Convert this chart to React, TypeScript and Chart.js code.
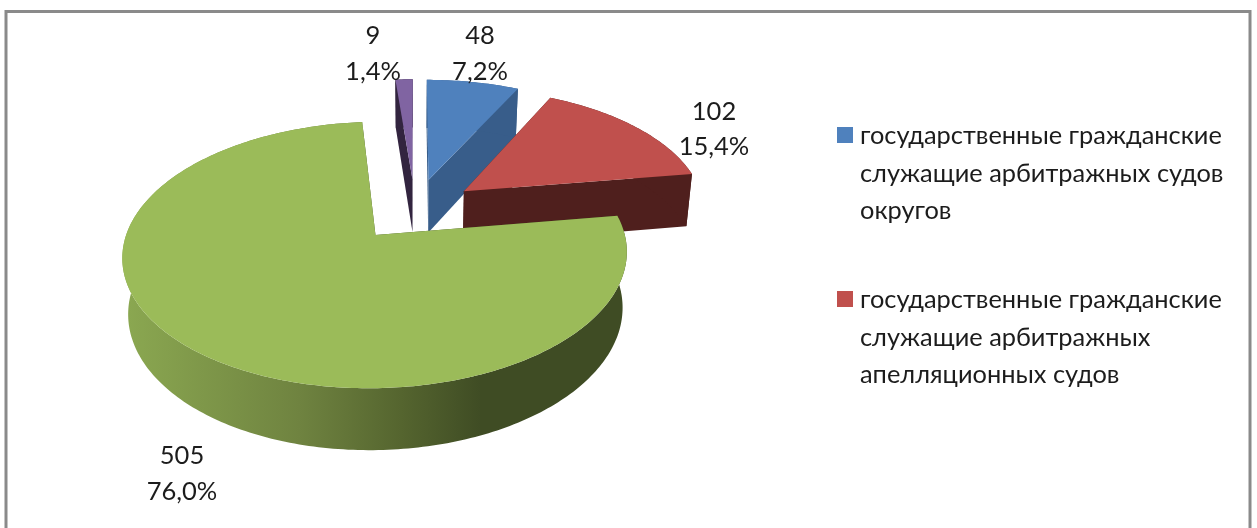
import React, { useEffect, useRef } from "react";
import { Chart, ArcElement, PieController } from "chart.js";

const sliceValues = [48, 102, 505, 9];
const sliceNames = [
  "государственные гражданские служащие арбитражных судов округов",
  "государственные гражданские служащие арбитражных апелляционных судов",
  "",
  "",
];
const percentLabels = ["7,2%", "15,4%", "76,0%", "1,4%"];
const legendLines = [
  ["государственные гражданские", "служащие арбитражных судов", "округов"],
  ["государственные гражданские", "служащие арбитражных", "апелляционных судов"],
];

const topColors = ["#4F81BD", "#C0504D", "#9BBB59", "#8064A2"];
const sideColors = ["#385D8A", "#4F1F1D", "#3F4D24", "#32243F"];
const shadedWall = [false, false, true, false];
const labelCentres = [
  [480, 36, 72],
  [714, 112, 147],
  [182, 456, 492],
  [373, 36, 72],
];
const FONT = "Lato, 'Open Sans', sans-serif";
const VIEW = { p: 0.146, k: 0.507, depth: 54, m: 0.98 };

function project(cx: number, cy: number, R: number, u: number, v: number, bottom: boolean) {
  const w = 1 + (VIEW.p * v) / R;
  let sx = u / w;
  let sy = (-VIEW.k * v) / w;
  if (bottom) {
    sx *= VIEW.m;
    sy = sy * VIEW.m + VIEW.depth / w;
  }
  return [cx + sx, cy + sy];
}

function fillPoly(ctx: CanvasRenderingContext2D, pts: number[][], fill: any) {
  ctx.beginPath();
  pts.forEach((p, i) => (i ? ctx.lineTo(p[0], p[1]) : ctx.moveTo(p[0], p[1])));
  ctx.closePath();
  ctx.fillStyle = fill;
  ctx.fill();
}

class Arc3D extends ArcElement {
  static id = "arc3d";
  draw(ctx: CanvasRenderingContext2D) {
    const { x, y, startAngle, endAngle, outerRadius } = (this as any).getProps([
      "x",
      "y",
      "startAngle",
      "endAngle",
      "outerRadius",
    ]);
    const o = (this as any).options;
    const idx = (this as any).$context.dataIndex;
    const R = outerRadius;
    const mid = (startAngle + endAngle) / 2;
    const ax = Math.cos(mid) * o.offset;
    const av = -Math.sin(mid) * o.offset;
    const steps = Math.max(8, Math.ceil(((endAngle - startAngle) * 180) / Math.PI));
    const rim: number[][] = [];
    for (let i = 0; i <= steps; i++) {
      const t = startAngle + ((endAngle - startAngle) * i) / steps;
      rim.push([ax + Math.cos(t) * R, av - Math.sin(t) * R]);
    }
    const top = (p: number[]) => project(x, y, R, p[0], p[1], false);
    const bot = (p: number[]) => project(x, y, R, p[0], p[1], true);
    const apex = [ax, av];
    const first = rim[0];
    const last = rim[rim.length - 1];
    const side = sideColors[idx];
    fillPoly(ctx, [top(apex), top(first), bot(first), bot(apex)], side);
    fillPoly(ctx, [top(apex), top(last), bot(last), bot(apex)], side);
    let wallFill: any = side;
    if (shadedWall[idx]) {
      const g = ctx.createLinearGradient(123, 0, 628, 0);
      g.addColorStop(0, "#8BA851");
      g.addColorStop(0.35, "#6F8340");
      g.addColorStop(0.55, "#55652F");
      g.addColorStop(0.71, "#3F4C24");
      g.addColorStop(1, "#3F4C24");
      wallFill = g;
    }
    fillPoly(ctx, [...rim.map(top), ...rim.slice().reverse().map(bot)], wallFill);
    fillPoly(ctx, [top(apex), ...rim.map(top)], o.backgroundColor);
  }
}

class Pie3DController extends PieController {
  static id = "pie3d";
  static defaults = { dataElementType: "arc3d" };
  draw() {
    const meta = (this as any)._cachedMeta;
    const ctx = (this as any)._ctx;
    const depthKey = (a: any) => Math.sin((a.startAngle + a.endAngle) / 2);
    [...meta.data].sort((a, b) => depthKey(a) - depthKey(b)).forEach((a: any) => a.draw(ctx));
  }
}

Chart.register(Arc3D as any, Pie3DController as any);

const framePlugin = {
  id: "frame",
  beforeDraw(chart: any) {
    const c = chart.ctx;
    c.save();
    c.strokeStyle = "#8A8A8A";
    c.lineWidth = 3;
    c.strokeRect(6, 11.5, 1244, 600);
    c.restore();
  },
};

const labelPlugin = {
  id: "sliceLabels",
  afterDraw(chart: any) {
    const c = chart.ctx;
    c.save();
    c.fillStyle = "#1c1c1c";
    c.textAlign = "center";
    c.textBaseline = "middle";
    c.font = `25.5px ${FONT}`;
    sliceValues.forEach((v, i) => {
      const [x, y1, y2] = labelCentres[i];
      c.fillText(String(v), x, y1);
      c.fillText(percentLabels[i], x, y2);
    });
    c.textAlign = "left";
    c.font = `25.4px ${FONT}`;
    const blocks = [136, 300];
    legendLines.forEach((lines, i) => {
      c.fillStyle = topColors[i];
      c.fillRect(837, blocks[i] - 9, 16, 16);
      c.fillStyle = "#1c1c1c";
      lines.forEach((t, j) => c.fillText(t, 860, blocks[i] + j * 37.5));
    });
    c.restore();
  },
};

export default function App() {
  const ref = useRef<HTMLCanvasElement>(null);
  useEffect(() => {
    const chart = new Chart(ref.current!, {
      type: "pie3d" as any,
      data: {
        labels: sliceNames,
        datasets: [
          {
            data: sliceValues,
            backgroundColor: topColors,
            offset: 62,
            borderWidth: 0,
          } as any,
        ],
      },
      options: {
        responsive: false,
        animation: false,
        radius: 242,
        layout: { padding: { left: 0, top: 0, right: 427, bottom: 109 } },
        plugins: { legend: { display: false }, tooltip: { enabled: false } },
      } as any,
      plugins: [framePlugin, labelPlugin],
    });
    return () => chart.destroy();
  }, []);
  return (
    <div style={{ position: "fixed", left: 0, top: 0, width: 1257, height: 528, background: "#fff" }}>
      <canvas ref={ref} width={1257} height={528} style={{ display: "block", filter: "blur(0.5px)" }} />
    </div>
  );
}
